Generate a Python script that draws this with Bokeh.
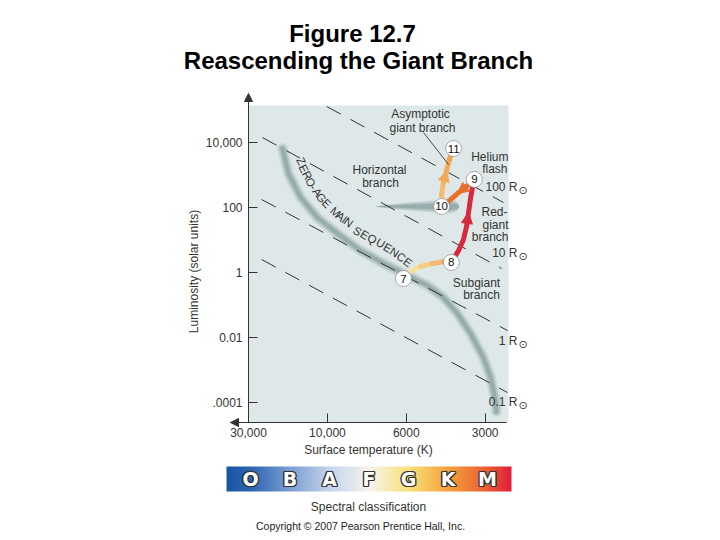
import numpy as np
from bokeh.plotting import figure
from bokeh.models import Range1d, FixedTicker, Label, Arrow, NormalHead, BoxAnnotation
from bokeh.embed import file_html
from bokeh.resources import INLINE
from bokeh.core.properties import value

# ---------------- data ----------------
TEMP_TICKS = [30000, 10000, 6000, 3000]
TEMP_TICK_LABELS = ["30,000", "10,000", "6000", "3000"]
LUM_TICKS = [1e4, 1e2, 1.0, 1e-2, 1e-4]
LUM_TICK_LABELS = ["10,000", "100", "1", "0.01", ".0001"]

# zero-age main sequence (K, solar units)
ZAMS_T = [18700, 17200, 14500, 11500, 9370, 8070, 6950, 6110, 4980, 4330, 3830, 3410, 3050, 2860, 2740, 2720]
ZAMS_L = [6700, 1140, 208, 50.5, 16.2, 4.86, 1.93, 0.95, 0.406, 0.174, 0.0558, 0.0135, 0.00247, 0.0006, 0.000117, 0.0000537]

# evolutionary track pieces
SUBGIANT_T = [5780, 5300, 4770, 4330, 4040]
SUBGIANT_L = [1.10, 1.56, 1.93, 2.2, 2.08]
REDGIANT_T = [4040, 3790, 3630, 3535, 3473, 3414, 3355, 3300]
REDGIANT_L = [2.08, 4.86, 10.6, 26.6, 71.9, 194, 423, 750]
FLASH_T = [3300, 3535, 3830, 4110, 4400]
FLASH_L = [750, 454, 276, 168, 110]
AGB_T = [4400, 4400, 4330, 4210, 4110, 3960]
AGB_L = [110, 257, 603, 1410, 3080, 6700]

STAGE_NUM = ["7", "8", "9", "10", "11"]
STAGE_T = [6110, 4040, 3300, 4400, 3960]
STAGE_L = [0.667, 2.08, 750, 110, 6700]

HB_T = [7300, 3760]
HB_L = 110

RADII_LABELS = ["100 R", "10 R", "1 R", "0.1 R"]
RADII_T0 = [10100, 24700, 25000, 25000]
RADII_L0 = [1.32e5, 14600, 181, 2.57]
RADII_T1 = [2555, 2600, 2466, 2466]
RADII_L1 = [146, 1.36, 0.0167, 0.000206]

SPECTRAL_CLASSES = ["O", "B", "A", "F", "G", "K", "M"]
ZAMS_LABEL = "ZERO-AGE MAIN SEQUENCE"

# ---------------- scales ----------------
LOG_TT = np.log10(np.array(TEMP_TICKS, float))


def tx(T):
    """temperature -> position on the figure's (piecewise log) temperature axis"""
    lt = np.log10(np.asarray(T, float))
    pos = np.interp(-lt, -LOG_TT, np.arange(len(LOG_TT), dtype=float))
    slope = 1.0 / (LOG_TT[-2] - LOG_TT[-1])
    return np.where(lt < LOG_TT[-1], (len(LOG_TT) - 1) + (LOG_TT[-1] - lt) * slope, pos)


# layout helpers (page pixels -> axis coordinates), for placement of annotations only
OFF = 0.0
X0PX, XSCALE = 248.0, 78.9
Y0PX, YSCALE = 272.3, 32.48
W, H = 712, 538


def ax(xp):
    return (xp - X0PX) / XSCALE


def ay(yp):
    return 10 ** ((Y0PX - yp) / YSCALE)


PANEL = "#dfe8e8"
AXIS = "#333333"
TXT = "#333333"
FONT = "Liberation Sans"

p = figure(width=W, height=H, title=None,
           x_range=Range1d(ax(OFF), ax(OFF + W)), y_range=Range1d(ay(OFF + H), ay(OFF)),
           y_axis_type="log", output_backend="svg", toolbar_location=None,
           min_border=0, min_border_left=0, min_border_right=0, min_border_top=0, min_border_bottom=0,
           background_fill_color="white", border_fill_color="white", outline_line_color=None)
p.grid.visible = False

# plotting panel
p.add_layout(BoxAnnotation(left=ax(248), right=ax(508), bottom=ay(422), top=ay(105),
                           fill_color=PANEL, fill_alpha=1.0, line_color=None, level="underlay"))

# axes, fixed at the panel's corner
p.xaxis.ticker = FixedTicker(ticks=[float(v) for v in tx(TEMP_TICKS)])
p.xaxis.major_label_overrides = {float(v): s for v, s in zip(tx(TEMP_TICKS), TEMP_TICK_LABELS)}
p.yaxis.ticker = FixedTicker(ticks=LUM_TICKS)
p.yaxis.major_label_overrides = {v: s for v, s in zip(LUM_TICKS, LUM_TICK_LABELS)}
p.xaxis.fixed_location = ay(422)
p.yaxis.fixed_location = ax(248)
p.xaxis.bounds = (ax(230), ax(506))
p.yaxis.bounds = (ay(422), ay(120))
for a in (p.xaxis[0], p.yaxis[0]):
    a.major_tick_in = 9
    a.major_tick_out = 0
    a.minor_tick_line_color = None
    a.axis_line_color = AXIS
    a.major_tick_line_color = AXIS
    a.major_label_text_font = FONT
    a.major_label_text_font_size = "12px"
    a.major_label_text_color = TXT
    a.axis_label_text_font = FONT
    a.axis_label_text_font_size = "12px"
    a.axis_label_text_font_style = "normal"
    a.axis_label_text_color = TXT
p.xaxis.axis_label = "Surface temperature (K)"
p.yaxis.axis_label = "Luminosity (solar units)"
p.xaxis.major_label_standoff = 5
p.yaxis.major_label_standoff = 6
p.xaxis.axis_label_standoff = 3
p.yaxis.axis_label_standoff = 2

p.add_layout(Arrow(end=NormalHead(size=8, fill_color=AXIS, line_color=AXIS),
                   x_start=ax(248), y_start=ay(121), x_end=ax(248), y_end=ay(93),
                   line_color=AXIS, line_width=1))
p.add_layout(Arrow(end=NormalHead(size=8, fill_color=AXIS, line_color=AXIS),
                   x_start=ax(240), y_start=ay(422), x_end=ax(230), y_end=ay(422),
                   line_color=AXIS, line_width=1))

# main sequence band (soft tube)
zx = tx(ZAMS_T)
for w, c, al in [(11, "#bccbcb", 0.5), (7.5, "#a0b4b4", 0.6), (4, "#869d9d", 0.6)]:
    p.line(zx, ZAMS_L, line_width=w, line_color=c, line_alpha=al, line_cap="round", line_join="round")

# horizontal branch smudge (tapered to the left, rounded on the right)
hbx = tx(HB_T)
t = np.linspace(0.0, 1.0, 60)
xs = hbx[0] + t * (hbx[1] - hbx[0])
knee = 0.88
for hmax, al in [(0.24, 0.22), (0.17, 0.3), (0.10, 0.35)]:
    base = hmax * np.minimum(t, knee) ** 0.7
    cap = np.sqrt(np.clip(1 - ((t - knee) / (1 - knee)) ** 2, 0, 1))
    half = np.where(t > knee, base * cap, base)
    p.patch(np.concatenate([xs, xs[::-1]]),
            np.concatenate([HB_L * 10 ** half, (HB_L * 10 ** -half)[::-1]]),
            fill_color="#6f8b8b", fill_alpha=al, line_color=None)

# lines of constant radius
p.segment(x0=tx(RADII_T0), y0=RADII_L0, x1=tx(RADII_T1), y1=RADII_L1,
          line_color=AXIS, line_width=1, line_dash="16 11")


def hex2rgb(h):
    h = h.lstrip("#")
    return np.array([int(h[i:i + 2], 16) for i in (0, 2, 4)], float)


def blend(c0, c1, tt):
    r = (1 - tt) * hex2rgb(c0) + tt * hex2rgb(c1)
    return "#%02x%02x%02x" % tuple(int(round(v)) for v in r)


def grad_track(Ts, Ls, c0, c1, w):
    x = tx(Ts)
    y = np.asarray(Ls, float)
    n = len(x) - 1
    cols = [blend(c0, c1, (i + 0.5) / n) for i in range(n)]
    p.segment(x0=x[:-1], y0=y[:-1], x1=x[1:], y1=y[1:], line_color=cols,
              line_width=w, line_cap="round")


RED = "#d62a3e"
ORANGE = "#e96f2c"
AGBC = "#f1aa55"

grad_track(SUBGIANT_T, SUBGIANT_L, "#f8eaa6", "#ef9c55", 5)
p.line(tx(REDGIANT_T), REDGIANT_L, line_color=RED, line_width=5, line_cap="round", line_join="round")
p.line(tx(FLASH_T), FLASH_L, line_color=ORANGE, line_width=5, line_cap="round", line_join="round")
grad_track(AGB_T, AGB_L, "#f6c77e", "#efa049", 5)


def head_on(Ts, Ls, i, color, size=11):
    p.add_layout(Arrow(end=NormalHead(size=size, fill_color=color, line_color=color),
                       x_start=float(tx(Ts[i])), y_start=Ls[i],
                       x_end=float(tx(Ts[i + 1])), y_end=Ls[i + 1], line_alpha=0))


head_on(REDGIANT_T, REDGIANT_L, 3, RED)
head_on(FLASH_T, FLASH_L, 1, ORANGE)
head_on(AGB_T, AGB_L, 2, AGBC)

# pointer for "Asymptotic giant branch"
p.add_layout(Arrow(end=None, x_start=ax(423), y_start=ay(132), x_end=ax(448), y_end=ay(164),
                   line_color="#222222", line_width=0.8))

# stage markers
p.scatter(tx(STAGE_T), STAGE_L, size=16, fill_color="white", line_color="#8a8a8a", line_width=0.7)
p.text(tx(STAGE_T), STAGE_L, text=STAGE_NUM, text_align="center", text_baseline="middle",
       text_font=value(FONT), text_font_size="11.5px", text_color="#111111")

# curved "ZERO-AGE MAIN SEQUENCE"
lab_chars = [c for c in ZAMS_LABEL if c != " "]
lab_px = [300.7, 303, 306.7, 310, 313, 316.7, 320.7, 326, 335, 340, 344, 348,
          357, 364, 371.7, 380, 387, 394, 400.7, 407.3]
lab_py = [160.7, 168, 175, 181.7, 186.7, 191.7, 197.3, 203, 211.7, 216, 219, 221.7,
          230.7, 234.3, 238.3, 242.7, 247.3, 251.7, 256.7, 261.7]
lab_ang = [-64, -63, -61, -59, -57, -54, -50, -46, -42, -40, -38, -37,
           -33, -32, -31, -31, -31, -32, -34, -36]
p.text([ax(v) for v in lab_px], [ay(v) for v in lab_py], text=lab_chars, angle=lab_ang,
       angle_units="deg", text_align="center", text_baseline="middle",
       text_font=value(FONT), text_font_size="11.5px", text_color=TXT)


def lab(x, y, s, align="center", size="12px", color=TXT, font=FONT, style="normal", base="middle"):
    p.add_layout(Label(x=ax(x), y=ay(y), text=s, text_align=align, text_baseline=base,
                       text_font=font, text_font_size=size, text_color=color,
                       text_font_style=style))


lab(420, 113, "Asymptotic")
lab(422, 127, "giant branch")
lab(379, 169, "Horizontal")
lab(380, 182, "branch")
lab(508, 156, "Helium", align="right")
lab(507, 168, "flash", align="right")
lab(507, 211, "Red-", align="right")
lab(508, 224, "giant", align="right")
lab(508, 236, "branch", align="right")
lab(476, 282, "Subgiant")
lab(481, 294, "branch")

for s, cy in zip(RADII_LABELS, [186, 252, 340, 401]):
    lab(517, cy, s, align="right")
    lab(518, cy + 4, "\u2299", align="left", font="DejaVu Sans", size="11px")

# title
lab(352, 33, "Figure 12.7", size="24px", color="#000000", style="bold")
lab(358, 60, "Reascending the Giant Branch", size="24px", color="#000000", style="bold")

# ---------------- spectral classification bar ----------------
BAR_L, BAR_R, BAR_T, BAR_B = 226, 511, 466, 491
stop_px = [BAR_L, 250, 289.5, 329, 368.5, 408, 447.5, 487, BAR_R]
stop_col = ["#1a55a5", "#2b65b1", "#7d9fd3", "#c4d4ec", "#f6f4ee", "#fae27a", "#f3a23a", "#ec5c33", "#e11f3d"]
N = 400
gpx = np.linspace(BAR_L, BAR_R, N)
rgb = np.array([hex2rgb(c) for c in stop_col])
rgba = np.zeros((1, N, 4), dtype=np.uint8)
for k in range(3):
    rgba[0, :, k] = np.interp(gpx, stop_px, rgb[:, k]).astype(np.uint8)
rgba[0, :, 3] = 255
img = rgba.view(dtype=np.uint32).reshape((1, N))
p.image_rgba(image=[img], x=ax(BAR_L), y=ay(BAR_B), dw=ax(BAR_R) - ax(BAR_L),
             dh=ay(BAR_T) - ay(BAR_B))

cx = [ax(250 + 39.5 * i) for i in range(len(SPECTRAL_CLASSES))]
cyy = [ay(478.5)] * len(SPECTRAL_CLASSES)
for dx, dy in [(-1.3, 0), (1.3, 0), (0, -1.3), (0, 1.3), (-1, -1), (-1, 1), (1, -1), (1, 1)]:
    p.text(cx, cyy, text=SPECTRAL_CLASSES, x_offset=dx, y_offset=dy, text_align="center",
           text_baseline="middle", text_font=value("DejaVu Sans"), text_font_style="bold",
           text_font_size="19px", text_color="#333333")
p.text(cx, cyy, text=SPECTRAL_CLASSES, text_align="center", text_baseline="middle",
       text_font=value("DejaVu Sans"), text_font_style="bold", text_font_size="19px",
       text_color="white")

lab(368, 506, "Spectral classification")
lab(360, 525, "Copyright \u00a9 2007 Pearson Prentice Hall, Inc.", size="10.5px", color="#222222")

open("out.html", "w").write(file_html(p, INLINE))
